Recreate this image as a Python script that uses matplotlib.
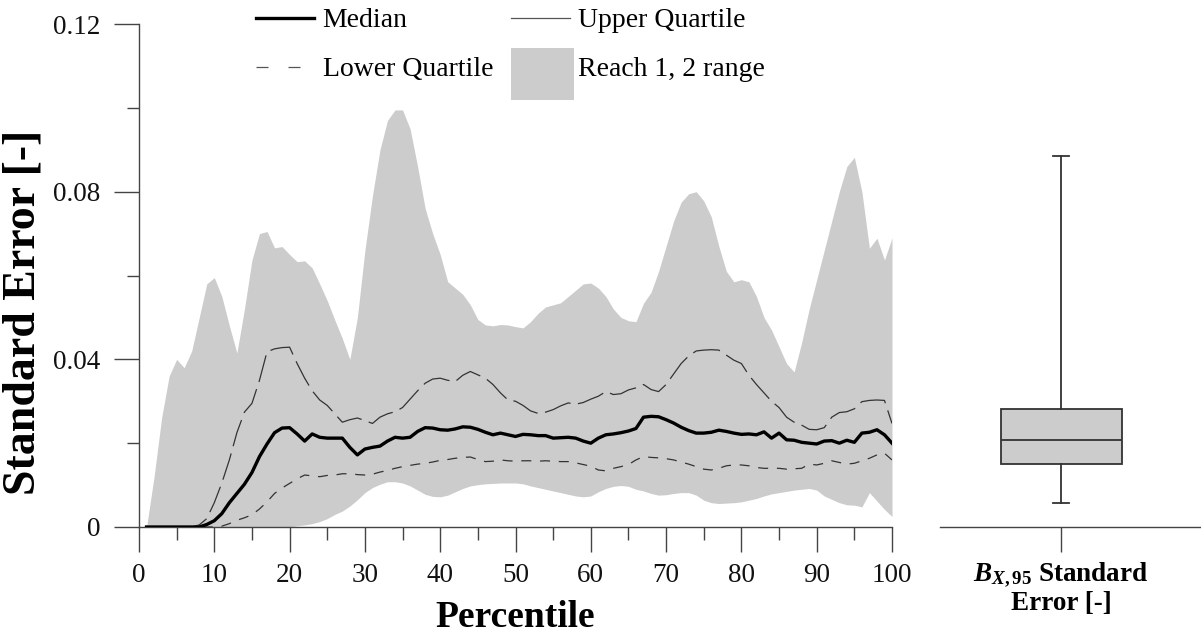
import matplotlib
matplotlib.use('Agg')
import matplotlib.pyplot as plt
from matplotlib.lines import Line2D
from matplotlib.patches import Patch, Rectangle
from matplotlib.legend_handler import HandlerPatch
from matplotlib.ticker import MultipleLocator, FuncFormatter
import numpy as np

plt.rcParams['font.family'] = ['Liberation Serif', 'DejaVu Serif']
plt.rcParams['mathtext.fontset'] = 'custom'
plt.rcParams['mathtext.it'] = 'Liberation Serif:italic:bold'
plt.rcParams['mathtext.rm'] = 'Liberation Serif:bold'
plt.rcParams['mathtext.bf'] = 'Liberation Serif:bold'

# ---- data ----
percentile = np.arange(1, 101)

median = [
    0, 0, 0, 0, 0, 0, 0, 0, 0.0006, 0.0015,
    0.0032, 0.0058, 0.008, 0.0102, 0.013, 0.0168, 0.0198, 0.0225, 0.0236, 0.0237,
    0.0222, 0.0205, 0.0222, 0.0214, 0.0212, 0.0212, 0.0212, 0.019, 0.0172, 0.0186,
    0.019, 0.0193, 0.0205, 0.0214, 0.0212, 0.0214, 0.0228, 0.0237, 0.0236, 0.0232,
    0.0231, 0.0234, 0.0239, 0.0238, 0.0233, 0.0226, 0.022, 0.0224, 0.022, 0.0216,
    0.0221, 0.022, 0.0218, 0.0218, 0.0212, 0.0213, 0.0214, 0.0212, 0.0205, 0.02,
    0.0212, 0.022, 0.0222, 0.0225, 0.0229, 0.0235, 0.0262, 0.0264, 0.0263, 0.0256,
    0.0248, 0.0238, 0.023, 0.0224, 0.0224, 0.0226, 0.0231, 0.0228, 0.0224, 0.0221,
    0.0222, 0.022, 0.0227, 0.0212, 0.0224, 0.0208, 0.0207, 0.0202, 0.02, 0.0198,
    0.0205, 0.0206, 0.02, 0.0207, 0.0202, 0.0224, 0.0226, 0.0232, 0.022, 0.020,
]

upper_q = [
    0, 0, 0, 0, 0, 0, 0, 0.0005, 0.002, 0.0058,
    0.0105, 0.016, 0.0225, 0.0274, 0.0295, 0.035, 0.0418, 0.0425, 0.0428, 0.0429,
    0.039, 0.0355, 0.0325, 0.0303, 0.029, 0.027, 0.025, 0.0256, 0.026, 0.0254,
    0.0247, 0.0262, 0.027, 0.0275, 0.0285, 0.0305, 0.0325, 0.0343, 0.0353, 0.0355,
    0.035, 0.0347, 0.0362, 0.0371, 0.0363, 0.0355, 0.034, 0.032, 0.0303, 0.030,
    0.029, 0.0277, 0.0271, 0.0274, 0.028, 0.0289, 0.0296, 0.0293, 0.0297, 0.0305,
    0.0312, 0.0323, 0.0316, 0.0318, 0.0327, 0.0332, 0.034, 0.0328, 0.0323, 0.034,
    0.0365, 0.039, 0.0408, 0.042, 0.0422, 0.0423, 0.0422, 0.041, 0.0398, 0.039,
    0.0362, 0.034, 0.032, 0.030, 0.0285, 0.0262, 0.025, 0.0243, 0.0233, 0.0232,
    0.0237, 0.0262, 0.0273, 0.0275, 0.0282, 0.0299, 0.0302, 0.0303, 0.0302, 0.0247,
]

lower_q = [
    0, 0, 0, 0, 0, 0, 0, 0, 0, 0,
    0.0002, 0.0008, 0.0016, 0.0022, 0.0029, 0.0043, 0.006, 0.008, 0.0093, 0.0104,
    0.0115, 0.0124, 0.0122, 0.012, 0.0123, 0.0124, 0.0127, 0.0127, 0.0125, 0.0124,
    0.0126, 0.0131, 0.0135, 0.014, 0.0144, 0.0147, 0.015, 0.0152, 0.0155, 0.0159,
    0.0161, 0.0164, 0.0166, 0.0167, 0.0161, 0.0156, 0.0157, 0.016, 0.0158, 0.0157,
    0.0158, 0.0158, 0.0157, 0.0158, 0.0157, 0.0156, 0.0156, 0.0153, 0.0149, 0.0145,
    0.0136, 0.0134, 0.014, 0.0144, 0.0149, 0.016, 0.0168, 0.0166, 0.0165, 0.0163,
    0.016, 0.0155, 0.015, 0.0144, 0.0138, 0.0136, 0.014, 0.0146, 0.0148, 0.0148,
    0.0146, 0.0142, 0.014, 0.014, 0.014, 0.0138, 0.0139, 0.014, 0.015, 0.0148,
    0.0152, 0.0158, 0.0154, 0.015, 0.0152, 0.0158, 0.0164, 0.0172, 0.0176, 0.016,
]

# Reach 1, 2 range (min / max envelope)
range_lo = [
    0, 0, 0, 0, 0, 0, 0, 0, 0, 0,
    0, 0, 0, 0, 0, 0, 0, 0, 0, 0,
    0.0003, 0.0005, 0.0008, 0.0013, 0.002, 0.003, 0.0038, 0.005, 0.0065, 0.0082,
    0.0094, 0.0102, 0.0108, 0.0108, 0.0105, 0.0098, 0.0088, 0.0078, 0.0073, 0.0072,
    0.0076, 0.0084, 0.0092, 0.0098, 0.0101, 0.0103, 0.0104, 0.0105, 0.0105, 0.0105,
    0.0103, 0.0098, 0.0094, 0.009, 0.0086, 0.0082, 0.0078, 0.0074, 0.0072, 0.0074,
    0.0084, 0.0092, 0.0097, 0.0099, 0.0097, 0.009, 0.0086, 0.008, 0.0076, 0.0077,
    0.008, 0.0082, 0.0082, 0.0076, 0.0064, 0.0058, 0.0056, 0.0057, 0.0058, 0.006,
    0.0064, 0.0068, 0.0074, 0.0079, 0.0082, 0.0085, 0.0088, 0.009, 0.0092, 0.0088,
    0.0074, 0.0066, 0.0058, 0.0053, 0.0052, 0.0048, 0.0082, 0.0062, 0.0042, 0.0025,
]

range_hi = [
    0.0, 0.012, 0.026, 0.036, 0.040, 0.038, 0.042, 0.050, 0.058, 0.0595,
    0.055, 0.048, 0.0415, 0.052, 0.0637, 0.070, 0.0705, 0.0666, 0.0669, 0.065,
    0.0633, 0.0635, 0.0618, 0.058, 0.054, 0.0494, 0.045, 0.040, 0.050, 0.066,
    0.079, 0.090, 0.097, 0.0995, 0.0995, 0.095, 0.086, 0.076, 0.070, 0.065,
    0.0585, 0.057, 0.0555, 0.053, 0.0495, 0.0482, 0.048, 0.0483, 0.0482, 0.0478,
    0.0475, 0.049, 0.051, 0.0525, 0.053, 0.0535, 0.055, 0.0565, 0.058, 0.0582,
    0.057, 0.055, 0.052, 0.050, 0.0492, 0.049, 0.0534, 0.056, 0.061, 0.067,
    0.073, 0.0775, 0.0795, 0.080, 0.0778, 0.074, 0.067, 0.061, 0.0585, 0.059,
    0.0585, 0.055, 0.050, 0.047, 0.043, 0.039, 0.037, 0.044, 0.052, 0.059,
    0.066, 0.073, 0.080, 0.086, 0.0882, 0.080, 0.0665, 0.0689, 0.0637, 0.069,
]

# B_X,95 standard error box plot summary
bx95_stats = dict(whislo=0.0057, q1=0.0150, med=0.0208, q3=0.0282, whishi=0.0885)

y_ticks = [0, 0.04, 0.08, 0.12]
x_ticks = [0, 10, 20, 30, 40, 50, 60, 70, 80, 90, 100]

FILL = '#cccccc'
AXCOL = '#444444'
W, H = 1201, 636

fig = plt.figure(figsize=(W / 100, H / 100), dpi=100)
ax = fig.add_axes([139 / W, 1 - 527 / H, 753 / W, 503 / H])
ax2 = fig.add_axes([940 / W, 1 - 527 / H, 261 / W, 503 / H])

# ---- main panel ----
ax.fill_between(percentile, range_lo, range_hi, color=FILL, lw=0, zorder=1)
ax.plot(percentile, upper_q, color='#333333', lw=0.9, dashes=(22, 6), zorder=3)
ax.plot(percentile, lower_q, color='#333333', lw=0.9, dashes=(8, 7), zorder=3)
ax.plot(percentile, median, color='black', lw=2.4, zorder=4)

ax.set_xlim(0, 100)
ax.set_ylim(0, 0.12)
ax.set_xticks(x_ticks)
ax.set_yticks(y_ticks)
ax.xaxis.set_minor_locator(MultipleLocator(5))
ax.yaxis.set_minor_locator(MultipleLocator(0.02))
ax.yaxis.set_major_formatter(FuncFormatter(lambda v, _: '0' if v == 0 else f'{v:.2f}'))

for a in (ax, ax2):
    for s in ('top', 'right'):
        a.spines[s].set_visible(False)
    for s in a.spines.values():
        s.set_color(AXCOL)
        s.set_linewidth(1.0)
    a.tick_params(which='major', direction='out', length=18, width=1.0, color=AXCOL,
                  labelsize=19.5, labelcolor='#111111')
    a.tick_params(which='minor', direction='out', length=9, width=1.0, color=AXCOL)
ax.tick_params(axis='x', which='major', pad=8)
ax.tick_params(axis='y', which='major', pad=10)

ax.set_xlabel('Percentile', fontsize=27, fontweight='bold')
ax.xaxis.set_label_coords(0.5, -0.145)
ax.set_ylabel('Standard Error [-]', fontsize=33, fontweight='bold')
ax.yaxis.set_label_coords(-0.125, 0.427)

# ---- legend ----
def big_patch(legend, orig_handle, xdescent, ydescent, width, height, fontsize):
    return Rectangle((-xdescent, -0.83 * fontsize), 2.27 * fontsize, 1.87 * fontsize)

handles = [
    Line2D([], [], color='black', lw=2.4),
    Line2D([], [], color='#555555', lw=0.9, dashes=(9.6, 16)),
    Line2D([], [], color='#555555', lw=0.9),
    Patch(color=FILL, lw=0),
]
labels = ['Median', 'Lower Quartile', 'Upper Quartile', 'Reach 1, 2 range']
ax.legend(handles, labels, ncol=2, loc='upper left', frameon=False,
          bbox_to_anchor=(256 / W, 1 - 8 / H), bbox_transform=fig.transFigure,
          fontsize=20, handlelength=2.1, handletextpad=0.3, columnspacing=0.65,
          labelspacing=0.85, borderpad=0, borderaxespad=0,
          handler_map={Patch: HandlerPatch(patch_func=big_patch)})

# ---- box plot panel ----
ax2.bxp([bx95_stats], positions=[1], widths=0.5, capwidths=0.07,
        showfliers=False, patch_artist=True,
        boxprops=dict(facecolor=FILL, edgecolor='#333333', lw=1.3),
        medianprops=dict(color='#333333', lw=1.3),
        whiskerprops=dict(color='#333333', lw=1.3),
        capprops=dict(color='#333333', lw=1.3))
ax2.set_xlim(0.5, 0.5 + 261 / 242)
ax2.set_ylim(0, 0.12)
ax2.spines['left'].set_visible(False)
ax2.set_yticks([])
ax2.set_xticks([1])
ax2.set_xticklabels([''])
ax2.set_xlabel(r'$\mathit{B}_{\mathit{X,95}}$ Standard' + '\nError [-]',
               fontsize=19.5, fontweight='bold', linespacing=1.1)
ax2.xaxis.set_label_coords(0.5 / (261 / 242), -0.065)

fig.savefig('out.png', dpi=100)
